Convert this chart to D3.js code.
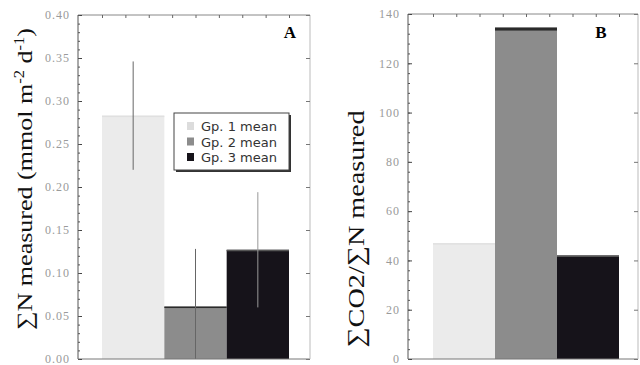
<!DOCTYPE html>
<html lang="en">
<head>
    <meta charset="UTF-8">
    <script src="https://d3js.org/d3.v7.min.js"></script>
    <style>
        body { margin: 0; background: #fff; }
        .ylab { font-family: "Liberation Serif", serif; fill: #111; }
        .legend text { font-family: "DejaVu Sans", sans-serif; fill: #333; }
    </style>
    <title>Chart</title>
</head>
<body>
<svg id="chart" width="640" height="365"></svg>
<script>
    // groups
    var groups = ["Gp. 1 mean", "Gp. 2 mean", "Gp. 3 mean"]
    var groupColors = ["#ebebeb", "#8c8c8c", "#16131a"]

    // panel A: sum N measured (mmol m-2 d-1)
    var nMeans = [0.283, 0.061, 0.127]
    var nErr = [0.063, 0.067, 0.067]
    var nTicks = [0, 0.05, 0.10, 0.15, 0.20, 0.25, 0.30, 0.35, 0.40]

    // panel B: sum CO2 / sum N measured
    var ratioMeans = [47, 134.5, 42]
    var ratioTicks = [0, 20, 40, 60, 80, 100, 120, 140]

    var svg = d3.select("#chart")

    function panel(opt) {
        var x = d3.scaleBand().domain(groups).range([opt.barL, opt.barR]).padding(0)
        var y = d3.scaleLinear().domain(opt.domain).range([opt.bottom, opt.top])
        var g = svg.append("g")

        // bars
        g.selectAll(".bar").data(opt.values).enter().append("rect")
            .attr("x", function (d, i) { return x(groups[i]) })
            .attr("width", x.bandwidth())
            .attr("y", function (d) { return y(d) })
            .attr("height", function (d) { return y(0) - y(d) })
            .attr("fill", function (d, i) { return groupColors[i] })

        // darker top band on bars (scan look)
        g.selectAll(".cap").data(opt.values).enter().append("rect")
            .attr("x", function (d, i) { return x(groups[i]) })
            .attr("width", x.bandwidth())
            .attr("y", function (d) { return y(d) })
            .attr("height", function (d, i) { return i == 1 && opt.letter == "B" ? 3 : 1.5 })
            .attr("fill", function (d, i) { return i == 0 ? "#e0e0e0" : (i == 1 ? "#2a2a2a" : "#555") })

        // error bars
        if (opt.err) {
            g.selectAll(".err").data(opt.values).enter().append("line")
                .attr("x1", function (d, i) { return x(groups[i]) + x.bandwidth() / 2 })
                .attr("x2", function (d, i) { return x(groups[i]) + x.bandwidth() / 2 })
                .attr("y1", function (d, i) { return y(Math.max(0, d - opt.err[i])) })
                .attr("y2", function (d, i) { return y(d + opt.err[i]) })
                .attr("stroke", function (d, i) { return i == 2 ? "#999" : "#666" })
                .attr("stroke-width", 1)
        }

        // frame
        var fr = g.append("g").attr("fill", "none")
        fr.append("line").attr("x1", opt.left).attr("x2", opt.left).attr("y1", opt.top).attr("y2", opt.bottom).attr("stroke", "#555")
        fr.append("line").attr("x1", opt.left).attr("x2", opt.right).attr("y1", opt.bottom).attr("y2", opt.bottom).attr("stroke", "#777")
        fr.append("line").attr("x1", opt.left).attr("x2", opt.right).attr("y1", opt.top).attr("y2", opt.top).attr("stroke", "#888")
        fr.append("line").attr("x1", opt.right).attr("x2", opt.right).attr("y1", opt.top).attr("y2", opt.bottom).attr("stroke", "#bbb")

        // left axis, inward ticks
        var ax = g.append("g").attr("transform", "translate(" + opt.left + ",0)")
            .call(d3.axisLeft(y).tickValues(opt.ticks).tickFormat(opt.fmt).tickSize(-4).tickPadding(8))
        ax.attr("font-family", "Liberation Serif, DejaVu Serif, serif").attr("font-size", 12)
        ax.select(".domain").remove()
        ax.selectAll(".tick line").attr("stroke", "#444")
        ax.selectAll(".tick text").attr("fill", "#9a9a9a").attr("letter-spacing", 1)

        var minor = d3.range(opt.domain[0], opt.domain[1] + 1e-9, opt.minorStep)
        var mx = g.append("g").attr("transform", "translate(" + opt.left + ",0)")
            .call(d3.axisLeft(y).tickValues(minor).tickFormat("").tickSize(-2))
        mx.select(".domain").remove()
        mx.selectAll(".tick line").attr("stroke", "#555")

        // right axis ticks
        var rx = g.append("g").attr("transform", "translate(" + opt.right + ",0)")
            .call(d3.axisRight(y).tickValues(opt.ticks).tickFormat("").tickSize(-4))
        rx.select(".domain").remove()
        rx.selectAll(".tick line").attr("stroke", "#777")

        // top ticks, spaced across the bar span
        var xt = d3.scaleLinear().domain([0, 8]).range([opt.barL, opt.barR])
        var tx = g.append("g").attr("transform", "translate(0," + opt.top + ")")
            .call(d3.axisTop(xt).tickValues(d3.range(0, 9)).tickFormat("").tickSize(-3))
        tx.select(".domain").remove()
        tx.selectAll(".tick line").attr("stroke", "#666")

        // panel letter
        g.append("text").attr("x", opt.letterX).attr("y", 38)
            .attr("font-family", "Liberation Serif, serif").attr("font-weight", "bold")
            .attr("font-size", 17).attr("text-anchor", "middle").text(opt.letter)

        return {x: x, y: y, g: g}
    }

    var pA = panel({
        left: 78, right: 310, top: 15, bottom: 359, barL: 102, barR: 289,
        domain: [0, 0.40], values: nMeans, err: nErr, ticks: nTicks, minorStep: 0.01,
        fmt: d3.format(".2f"), letter: "A", letterX: 290
    })

    var pB = panel({
        left: 408, right: 638, top: 14, bottom: 359, barL: 433, barR: 619,
        domain: [0, 140], values: ratioMeans, err: null, ticks: ratioTicks, minorStep: 4,
        fmt: d3.format("d"), letter: "B", letterX: 601
    })

    // y labels
    var la = svg.append("text").attr("class", "ylab")
        .attr("transform", "translate(32,179) rotate(-90)")
        .attr("text-anchor", "middle").attr("font-size", 22)
        .attr("textLength", 302).attr("lengthAdjust", "spacingAndGlyphs")
    la.append("tspan").text("\u2211N measured (mmol m")
    la.append("tspan").attr("font-size", 14).attr("dy", -8).text("-2")
    la.append("tspan").attr("dy", 8).text(" d")
    la.append("tspan").attr("font-size", 14).attr("dy", -8).text("-1")
    la.append("tspan").attr("dy", 8).text(")")

    svg.append("text").attr("class", "ylab")
        .attr("transform", "translate(364,229) rotate(-90)")
        .attr("text-anchor", "middle").attr("font-size", 24)
        .attr("textLength", 237).attr("lengthAdjust", "spacingAndGlyphs")
        .text("\u2211CO2/\u2211N measured")

    // legend in panel A
    var lg = svg.append("g").attr("class", "legend").attr("transform", "translate(174,113)")
    lg.append("rect").attr("x", 2).attr("y", 2).attr("width", 115).attr("height", 57).attr("fill", "#333")
    lg.append("rect").attr("width", 115).attr("height", 57).attr("fill", "#fff").attr("stroke", "#444")
    var rows = lg.selectAll(".row").data(groups).enter().append("g")
        .attr("transform", function (d, i) { return "translate(13," + (13 + i * 15.5) + ")" })
    rows.append("rect").attr("x", 0).attr("y", -4).attr("width", 7).attr("height", 8)
        .attr("fill", function (d, i) { return groupColors[i] == "#ebebeb" ? "#dcdcdc" : groupColors[i] })
    rows.append("text").attr("x", 14).attr("y", 5).attr("font-size", 12)
        .attr("textLength", 76).attr("lengthAdjust", "spacingAndGlyphs")
        .text(function (d) { return d })
</script>
</body>
</html>
